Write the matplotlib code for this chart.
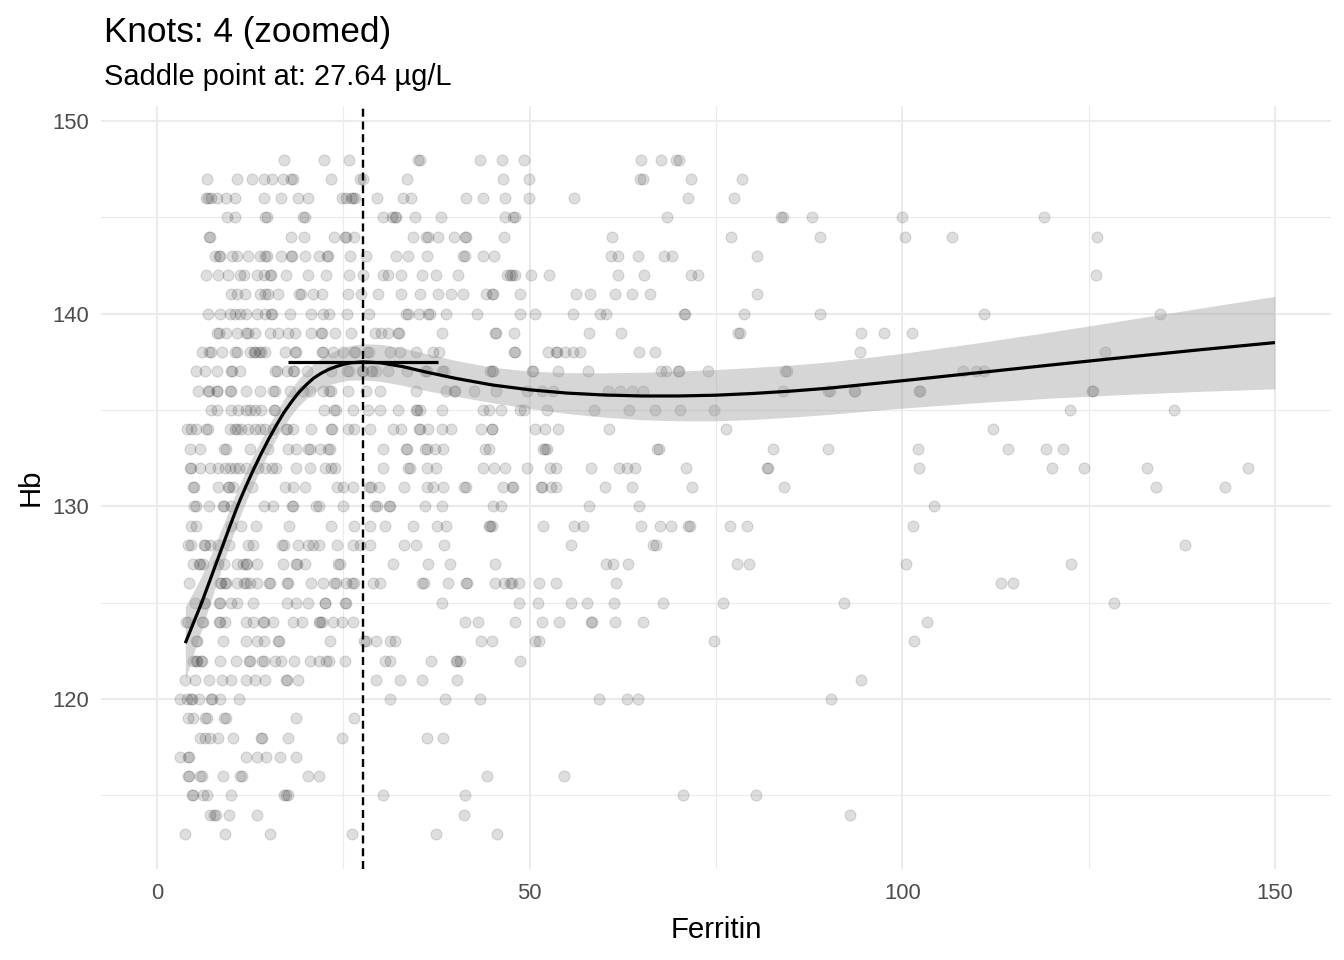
import numpy as np
import matplotlib
matplotlib.use("Agg")
import matplotlib.pyplot as plt

plt.rcParams['font.family'] = ['Liberation Sans', 'DejaVu Sans']

# ferritin values of the points, one list per Hb row (Hb is whole numbers)
f148 = [17.1, 22.4, 25.7, 35.0, 35.3, 43.3, 46.3, 49.2, 65.0, 67.6, 69.6, 70.0]
f147 = [6.7, 10.8, 12.8, 14.3, 15.4, 16.9, 18.0, 18.2, 23.3, 27.2, 27.6, 33.5, 46.4, 49.9, 64.8, 65.2, 71.6, 78.5]
f146 = [6.6, 6.9, 7.3, 8.0, 9.3, 10.5, 14.4, 16.7, 18.9, 20.3, 24.8, 25.3, 26.0, 26.3, 26.6, 29.5, 33.0, 34.1,
        41.4, 43.8, 46.7, 49.9, 55.9, 71.3, 77.4]
f145 = [9.4, 10.5, 14.5, 14.7, 19.6, 19.9, 30.3, 31.5, 31.9, 32.1, 34.6, 38.1, 46.7, 47.8, 48.0, 68.4, 83.7, 84.0,
        87.9, 100.0, 119.0]
f144 = [7.0, 7.1, 18.05, 19.7, 23.8, 25.2, 25.4, 26.5, 34.4, 36.1, 36.3, 37.7, 39.9, 41.3, 41.5, 46.6, 61.0, 77.0,
        88.9, 100.4, 106.7, 126.1]
f143 = [7.8, 8.3, 8.5, 10.1, 10.8, 12.2, 13.8, 14.5, 14.8, 16.6, 18.0, 18.1, 19.9, 21.8, 22.8, 22.9, 25.9, 28.1,
        32.1, 33.7, 36.2, 41.1, 41.3, 43.8, 45.2, 60.9, 61.8, 64.5, 68.0, 69.1, 80.5]
f142 = [6.6, 8.2, 9.5, 11.1, 11.7, 13.4, 14.3, 15.1, 15.3, 17.3, 20.3, 22.7, 25.8, 27.6, 30.3, 31.0, 32.8, 35.5,
        37.5, 40.4, 47.0, 47.4, 47.6, 48.0, 50.2, 52.6, 61.8, 65.3, 71.6, 72.6, 126.0]
f141 = [10.0, 10.7, 11.8, 13.8, 14.5, 14.9, 16.3, 19.1, 19.3, 21.0, 22.1, 25.6, 27.4, 29.6, 32.7, 35.3, 37.7, 39.5,
        41.1, 44.1, 44.9, 45.1, 48.7, 56.2, 58.1, 61.5, 63.8, 66.2, 80.5]
f140 = [6.9, 8.4, 9.8, 10.5, 11.1, 11.9, 13.4, 14.5, 15.3, 15.5, 17.8, 20.7, 22.3, 23.1, 25.5, 28.5, 33.4, 33.7,
        35.2, 36.4, 36.6, 38.8, 42.9, 48.7, 50.7, 55.8, 59.4, 60.3, 70.7, 70.9, 78.8, 88.9, 110.9, 134.6]
f139 = [8.1, 8.3, 9.3, 10.7, 12.0, 12.2, 13.1, 15.1, 16.3, 17.6, 18.5, 20.7, 22.0, 22.2, 23.9, 26.1, 29.2, 30.1,
        31.0, 32.3, 32.5, 38.2, 45.3, 45.5, 47.9, 57.9, 62.3, 78.0, 78.2, 94.5, 97.5, 101.3]
f138 = [6.0, 7.0, 7.2, 8.7, 10.5, 10.7, 12.5, 13.0, 13.2, 13.7, 13.9, 14.5, 17.2, 18.5, 18.7, 22.1, 22.3, 23.6,
        25.0, 26.4, 26.6, 28.2, 28.4, 31.2, 32.6, 34.8, 37.0, 37.9, 47.9, 48.1, 52.5, 53.5, 53.7, 54.7, 55.8, 56.8,
        64.7, 66.8, 94.3, 127.2]
f137 = [5.3, 6.4, 8.0, 9.9, 10.1, 11.1, 15.9, 16.1, 17.4, 18.2, 18.4, 20.1, 23.4, 25.5, 25.7, 27.5, 27.7, 28.7,
        28.9, 29.4, 31.0, 33.5, 36.0, 36.2, 38.3, 38.5, 44.7, 44.9, 45.1, 50.3, 50.5, 53.8, 57.8, 67.6, 68.3, 69.9,
        70.1, 74.0, 84.3, 84.5, 108.1, 109.9, 111.0]
f136 = [5.5, 6.8, 7.0, 8.0, 8.1, 9.8, 10.0, 12.0, 13.8, 15.6, 15.8, 17.9, 19.6, 20.5, 22.3, 23.1, 23.3, 25.6,
        28.1, 29.9, 34.7, 38.8, 39.8, 40.0, 42.6, 45.5, 49.6, 51.6, 53.2, 60.5, 62.1, 63.8, 65.2, 84.0, 90.1, 90.3,
        93.5, 93.7, 102.2, 102.4, 125.4, 125.6]
f135 = [7.3, 8.0, 10.0, 10.9, 12.0, 12.5, 13.1, 14.0, 15.7, 15.9, 22.4, 23.8, 24.0, 26.3, 28.3, 29.9, 32.4, 34.7,
        34.9, 35.3, 38.2, 43.7, 44.6, 46.2, 48.7, 49.3, 52.3, 58.7, 63.3, 66.8, 70.2, 74.7, 122.5, 136.5]
f134 = [4.0, 4.6, 5.3, 6.6, 6.8, 9.8, 10.5, 10.7, 11.3, 12.2, 13.1, 13.8, 14.5, 15.6, 17.3, 17.5, 18.3, 20.7,
        23.3, 23.5, 25.6, 26.5, 28.6, 31.7, 32.8, 35.1, 35.3, 36.4, 38.2, 39.5, 43.5, 44.9, 45.0, 50.7, 52.0, 53.8,
        60.6, 76.3, 112.2]
f133 = [4.4, 5.8, 9.0, 9.2, 12.5, 14.9, 17.6, 18.7, 20.3, 20.5, 21.9, 22.9, 23.2, 30.3, 33.4, 33.6, 36.0, 36.2,
        37.3, 38.4, 44.0, 44.6, 51.8, 52.1, 52.3, 67.1, 67.3, 82.7, 90.0, 102.1, 114.2, 119.3, 121.6]
f132 = [4.4, 4.6, 5.8, 7.1, 8.2, 9.1, 9.8, 10.5, 11.0, 12.0, 13.6, 14.5, 15.4, 16.0, 18.7, 20.5, 22.5, 23.3,
        23.9, 30.3, 33.7, 33.9, 36.2, 37.5, 43.7, 45.2, 46.7, 49.6, 52.8, 53.6, 58.3, 62.0, 63.0, 64.1, 71.0, 81.8,
        82.0, 102.2, 120.1, 124.4, 132.8, 146.4]
f131 = [4.8, 5.0, 8.2, 9.5, 9.7, 10.2, 12.7, 17.2, 18.3, 19.8, 24.1, 25.0, 26.3, 28.5, 28.7, 29.8, 33.2, 36.2,
        37.0, 38.4, 41.2, 41.4, 46.4, 47.6, 47.8, 51.5, 51.7, 52.9, 53.5, 60.1, 63.8, 71.8, 84.1, 134.0, 143.3]
f130 = [5.0, 5.2, 7.0, 8.8, 9.0, 10.0, 14.3, 15.6, 18.1, 18.3, 21.3, 21.8, 24.9, 29.3, 29.5, 31.1, 31.3, 35.9,
        38.2, 45.1, 46.2, 58.0, 64.7, 104.2]
f129 = [4.6, 5.3, 10.0, 11.3, 13.3, 17.7, 23.4, 26.5, 28.6, 30.6, 34.3, 37.6, 38.8, 44.5, 44.7, 45.0, 51.8, 56.0,
        57.1, 65.0, 67.5, 69.0, 71.3, 71.5, 76.9, 79.2, 101.4]
f128 = [4.2, 4.6, 6.3, 6.5, 7.1, 8.2, 9.6, 12.2, 12.9, 16.8, 17.0, 18.9, 20.3, 21.0, 21.8, 24.1, 26.3, 27.2,
        28.6, 33.2, 34.8, 38.5, 55.5, 66.5, 67.0, 137.9]
f127 = [4.9, 5.6, 5.8, 6.2, 8.2, 9.0, 10.7, 11.5, 11.9, 12.1, 13.4, 16.9, 18.6, 18.8, 19.8, 24.3, 24.5, 31.7,
        36.4, 39.3, 45.3, 60.3, 61.2, 63.2, 77.8, 79.4, 100.5, 122.7]
f126 = [4.3, 8.4, 8.6, 9.1, 9.3, 10.7, 11.7, 11.9, 12.5, 13.4, 15.0, 15.2, 17.4, 17.6, 20.7, 22.3, 23.8, 24.0,
        25.4, 26.2, 26.4, 29.0, 29.9, 35.6, 35.8, 39.0, 41.4, 41.6, 45.3, 46.6, 47.4, 47.6, 48.6, 51.3, 53.5, 61.6,
        113.3, 114.8]
f125 = [5.1, 6.3, 6.5, 8.3, 8.5, 10.0, 10.7, 12.9, 17.4, 18.7, 20.3, 22.5, 22.6, 25.2, 25.4, 38.3, 48.6, 51.1,
        55.6, 57.7, 61.3, 67.9, 75.9, 92.2, 128.4]
f124 = [3.9, 4.1, 6.0, 6.2, 8.3, 8.5, 9.1, 12.0, 12.9, 14.2, 14.4, 15.6, 18.2, 19.4, 21.7, 21.9, 22.1, 23.6,
        24.8, 26.3, 41.3, 43.1, 48.0, 51.7, 54.0, 58.2, 58.4, 61.5, 65.2, 103.3]
f123 = [5.2, 5.4, 8.8, 12.0, 13.4, 14.3, 16.2, 16.4, 23.2, 27.8, 28.0, 29.4, 31.2, 31.9, 43.5, 45.0, 50.7, 51.3,
        74.7, 101.6]
f122 = [4.9, 5.2, 5.4, 5.9, 6.1, 8.4, 10.6, 12.3, 12.5, 14.1, 14.3, 15.8, 16.7, 18.4, 20.5, 21.8, 22.7, 23.1,
        25.2, 30.6, 31.2, 36.8, 40.1, 40.3, 40.7, 48.7]
f121 = [3.8, 5.1, 7.0, 8.7, 10.0, 12.0, 13.1, 14.5, 17.3, 17.5, 18.9, 29.4, 32.6, 35.6, 40.2, 94.5]
f120 = [3.1, 4.0, 4.5, 4.7, 5.7, 7.2, 7.4, 8.4, 11.0, 31.3, 38.7, 43.3, 59.3, 63.0, 64.5, 90.4]
f119 = [4.2, 4.9, 6.5, 6.7, 9.0, 9.2, 18.7, 26.5]
f118 = [5.8, 6.4, 7.1, 8.2, 10.2, 13.9, 14.1, 17.6, 24.8, 36.2, 38.4]
f117 = [3.1, 4.1, 4.3, 12.0, 13.4, 14.6, 16.5, 18.7]
f116 = [4.1, 4.3, 5.8, 6.0, 8.8, 11.2, 11.4, 20.3, 21.7, 44.3, 54.6]
f115 = [4.7, 4.9, 6.2, 6.7, 10.0, 17.1, 17.3, 17.6, 30.3, 41.3, 70.6, 80.4]
f114 = [7.1, 7.7, 7.9, 9.6, 13.4, 41.2, 93.0]
f113 = [3.8, 9.1, 15.1, 26.2, 37.4, 45.6]

# spline fit, with half width of the confidence band
curve_x = [3.8, 5, 6, 7, 8, 9, 10, 11, 12, 13, 14, 15, 16, 17, 18, 19, 20, 21, 22, 23, 24, 25, 26, 27.64,
           30, 33, 36, 40, 45, 50, 55, 60, 65, 70, 75, 80, 85, 90, 100, 110, 120, 130, 140, 150]
curve_fit = [122.9, 124.05, 125.0, 126.05, 127.1, 128.15, 129.2, 130.2, 131.1, 131.95, 132.75, 133.5, 134.2,
             134.85, 135.4, 135.9, 136.3, 136.65, 136.9, 137.1, 137.25, 137.37, 137.45, 137.5,
             137.45, 137.25, 136.98, 136.65, 136.3, 136.05, 135.88, 135.78, 135.73, 135.73, 135.77, 135.86,
             135.98, 136.13, 136.52, 136.93, 137.34, 137.74, 138.13, 138.5]
curve_half = [1.9, 1.6, 1.4, 1.23, 1.1, 1.0, 0.92, 0.86, 0.8, 0.76, 0.72, 0.7, 0.68, 0.68, 0.69, 0.7, 0.72,
              0.75, 0.78, 0.81, 0.84, 0.87, 0.9, 0.94, 0.96, 0.97, 0.96, 0.93, 0.92, 0.97, 1.06, 1.15, 1.23,
              1.29, 1.33, 1.35, 1.35, 1.36, 1.42, 1.55, 1.72, 1.93, 2.16, 2.4]

saddle = 27.64
saddle_hb = 137.5

rows = {148: f148, 147: f147, 146: f146, 145: f145, 144: f144, 143: f143, 142: f142, 141: f141,
        140: f140, 139: f139, 138: f138, 137: f137, 136: f136, 135: f135, 134: f134, 133: f133,
        132: f132, 131: f131, 130: f130, 129: f129, 128: f128, 127: f127, 126: f126, 125: f125,
        124: f124, 123: f123, 122: f122, 121: f121, 120: f120, 119: f119, 118: f118, 117: f117,
        116: f116, 115: f115, 114: f114, 113: f113}
ferritin = np.concatenate([np.array(v, dtype=float) for v in rows.values()])
hb = np.concatenate([np.full(len(v), k, dtype=float) for k, v in rows.items()])

cx = np.array(curve_x)
cy = np.array(curve_fit)
ch = np.array(curve_half)

fig = plt.figure(figsize=(13.44, 9.6), dpi=100)
ax = fig.add_axes([0.0752, 0.0952, 0.9150, 0.7948])

ax.scatter(ferritin, hb, s=62, facecolor=(0, 0, 0, 0.13), edgecolor=(0, 0, 0, 0.13),
           linewidths=0.8, zorder=2)
ax.fill_between(cx, cy - ch, cy + ch, color='#999999', alpha=0.4, linewidth=0, zorder=3)
ax.plot(cx, cy, color='black', lw=2.3, zorder=4, solid_capstyle='butt')
ax.plot([saddle - 10, saddle + 10], [saddle_hb, saddle_hb], color='black', lw=2.3, zorder=4,
        solid_capstyle='butt')
ax.axvline(saddle, color='black', lw=1.7, linestyle=(0, (3.4, 2.0)), zorder=5)

ax.set_xlim(-7.5, 157.5)
ax.set_ylim(111.2, 150.8)
ax.set_xticks([0, 50, 100, 150])
ax.set_xticks([25, 75, 125], minor=True)
ax.set_yticks([120, 130, 140, 150])
ax.set_yticks([115, 125, 135, 145], minor=True)
ax.grid(which='major', color='#ebebeb', lw=1.5, zorder=0)
ax.grid(which='minor', color='#ebebeb', lw=0.8, zorder=0)
ax.set_axisbelow(True)
for s in ax.spines.values():
    s.set_visible(False)
ax.tick_params(which='both', length=0)
ax.tick_params(axis='x', pad=10.5, labelsize=15.8, labelcolor='#4d4d4d')
ax.tick_params(axis='y', pad=8.6, labelsize=15.8, labelcolor='#4d4d4d')

fig.text(104 / 1344, 1 - 41.7 / 960, 'Knots: 4 (zoomed)', fontsize=25.3, va='baseline', ha='left')
fig.text(104 / 1344, 1 - 85 / 960, 'Saddle point at: 27.64 µg/L', fontsize=20.9, va='baseline', ha='left')
fig.text(0.5327, 1 - 938 / 960, 'Ferritin', fontsize=21.2, va='baseline', ha='center')
fig.text(31 / 1344, 1 - 487 / 960, 'Hb', fontsize=21.2, va='center', ha='center', rotation=90)

fig.savefig('out.png', dpi=100)
